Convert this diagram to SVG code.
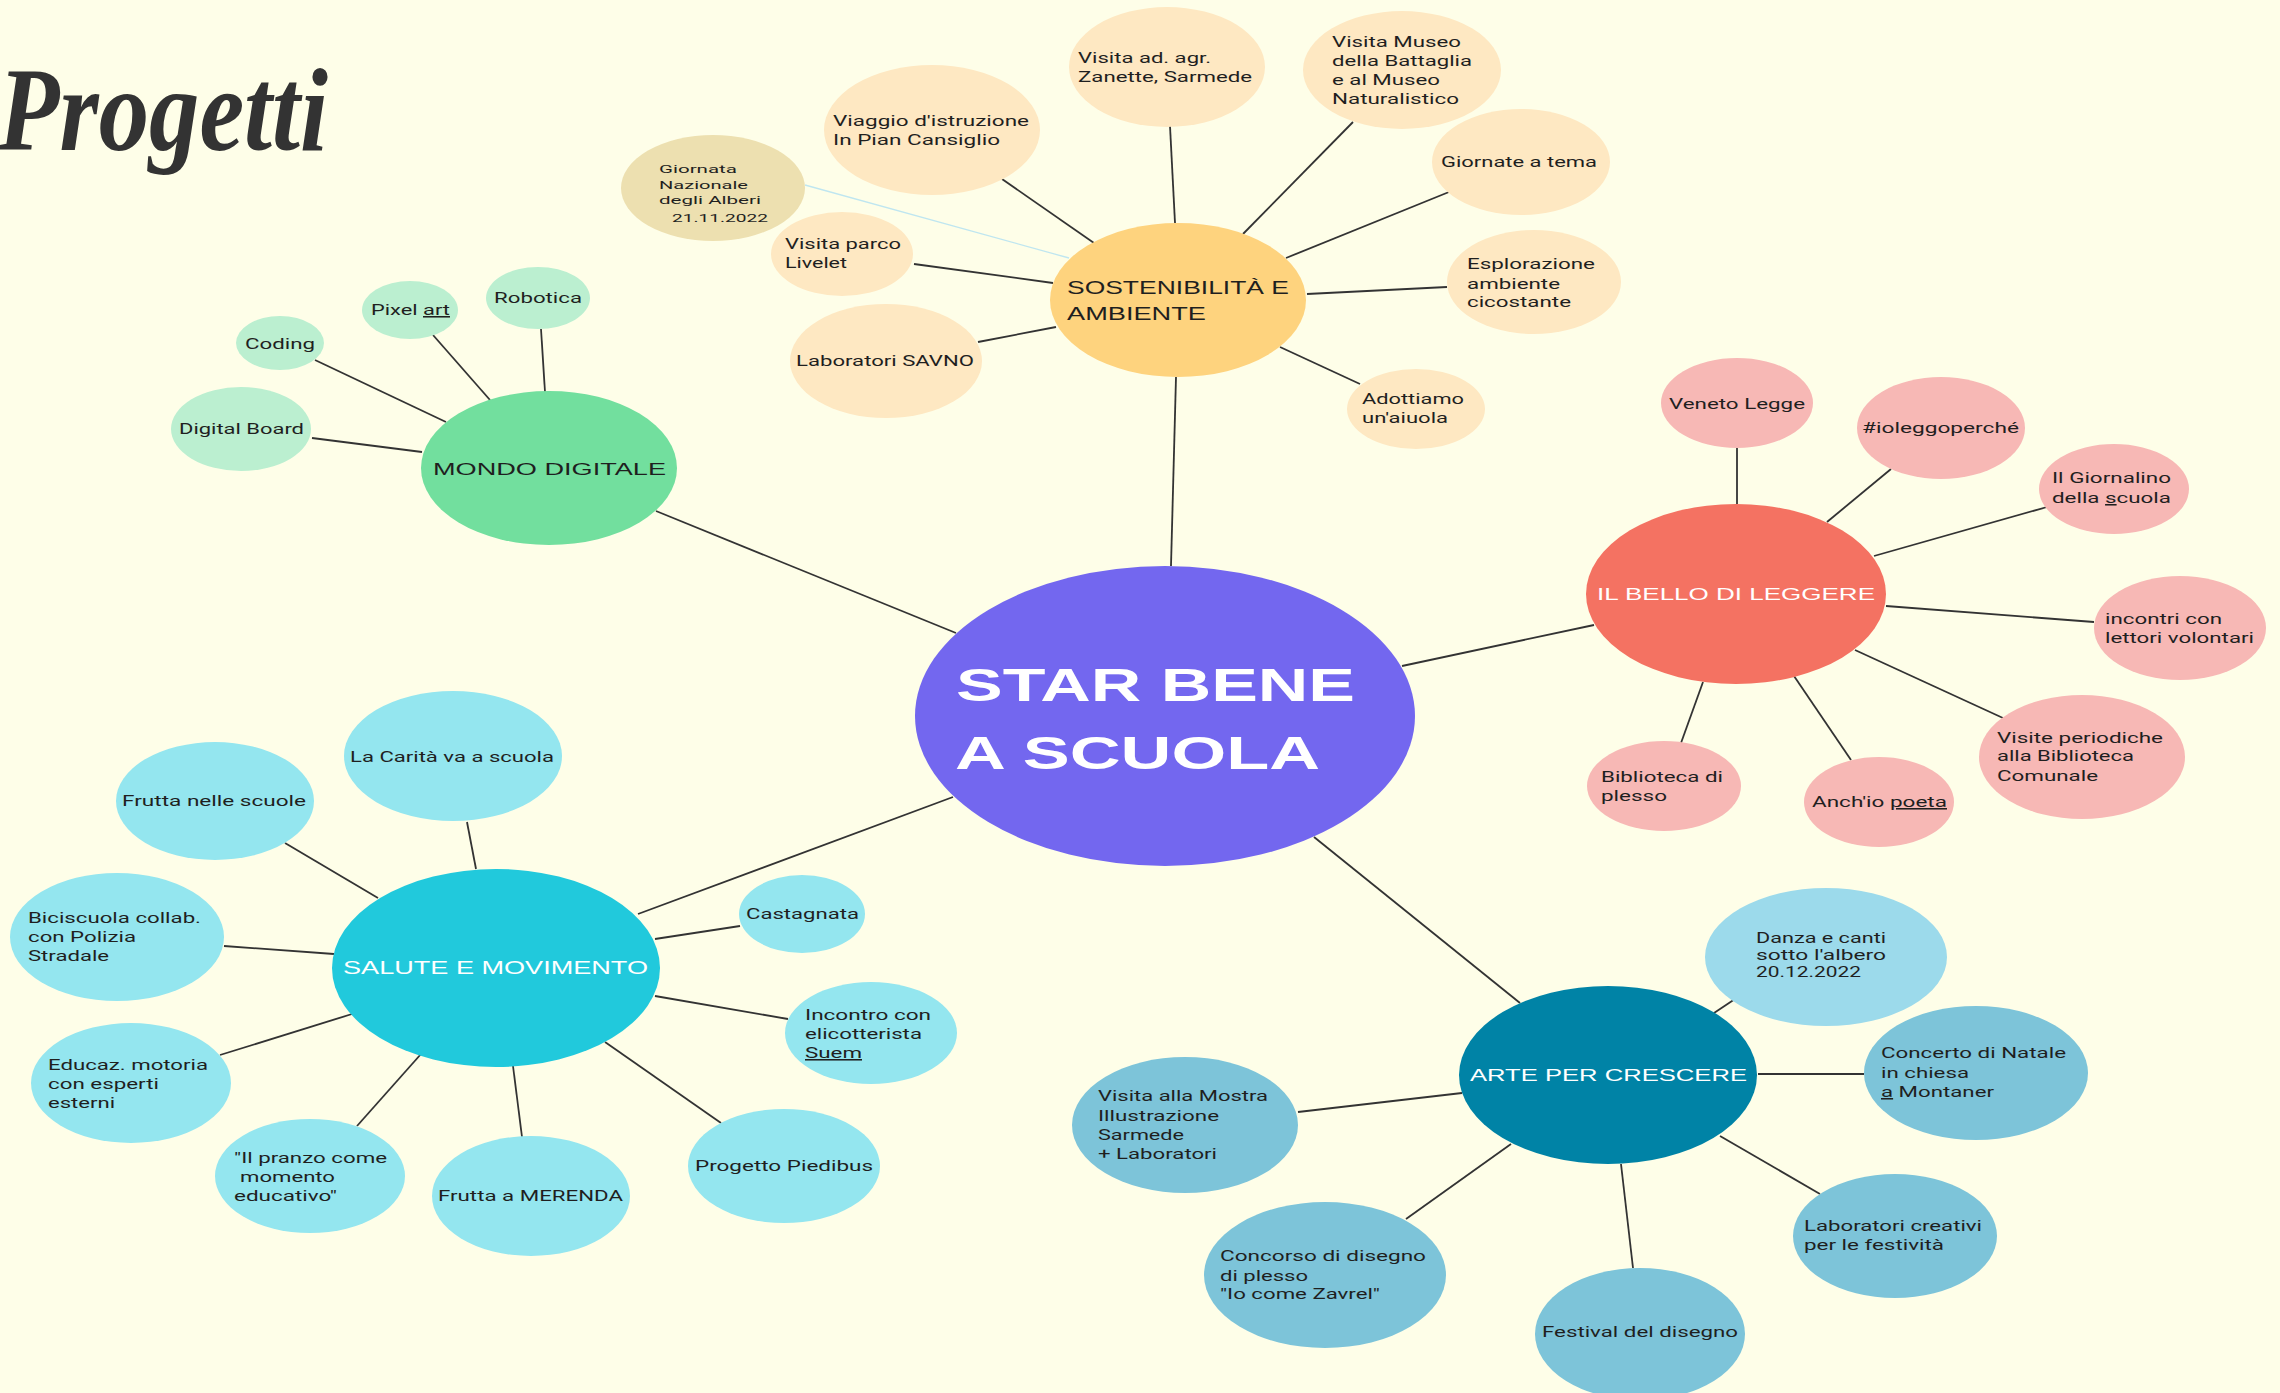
<svg xmlns="http://www.w3.org/2000/svg" width="2280" height="1393" viewBox="0 0 2280 1393">
<style>
.ln{stroke:#333;stroke-width:1.8;fill:none}
.lnb{stroke:#bfe6f0;stroke-width:1.3;fill:none}
text{font-family:Roboto,"Liberation Sans",sans-serif;fill:#1f1f1f;font-size:15.5px}
.hub{font-family:"Liberation Sans",Arial,sans-serif;font-size:17px}
.h18{font-size:18px}
.h175{font-size:17.5px}
.sm{font-size:11.5px}
.title{font-family:"Liberation Serif",serif;font-weight:bold;font-style:italic;font-size:118px;fill:#333}
.ctr{font-family:"Liberation Sans",Arial,sans-serif;font-weight:bold;font-size:46px;fill:#ffffff}
text.w{fill:#ffffff}
.g1{fill:#72df9e}.g2{fill:#bbefd0}
.o1{fill:#fed37e}.o2{fill:#fee8c2}.o3{fill:#ede0b0}
.r1{fill:#f47262}.r2{fill:#f7b8b5}
.c1{fill:#21c9dc}.c2{fill:#94e6ef}
.b1{fill:#0083a6}.b2{fill:#7dc4d9}.b3{fill:#9cdaeb}
.u{text-decoration:underline}
</style>
<rect width="2280" height="1393" fill="#fefee8"/>
<text class="title" x="-2" y="150" textLength="330" lengthAdjust="spacingAndGlyphs">Progetti</text>

<g id="connectors">
<line class="ln" x1="656" y1="511" x2="956" y2="633"/>
<line class="ln" x1="1176" y1="377" x2="1171" y2="566"/>
<line class="ln" x1="1594" y1="625" x2="1402" y2="666"/>
<line class="ln" x1="638" y1="914" x2="953" y2="797"/>
<line class="ln" x1="1520" y1="1003" x2="1314" y2="837"/>
<line class="ln" x1="315" y1="360" x2="446" y2="422"/>
<line class="ln" x1="433" y1="335" x2="490" y2="400"/>
<line class="ln" x1="541" y1="329" x2="545" y2="392"/>
<line class="ln" x1="312" y1="438" x2="422" y2="452"/>
<line class="lnb" x1="805" y1="185" x2="1069" y2="258"/>
<line class="ln" x1="1002" y1="179" x2="1094" y2="243"/>
<line class="ln" x1="1170" y1="126" x2="1175" y2="223"/>
<line class="ln" x1="1353" y1="122" x2="1243" y2="234"/>
<line class="ln" x1="1449" y1="192" x2="1286" y2="258"/>
<line class="ln" x1="1307" y1="294" x2="1447" y2="287"/>
<line class="ln" x1="1280" y1="347" x2="1360" y2="384"/>
<line class="ln" x1="978" y1="342" x2="1056" y2="327"/>
<line class="ln" x1="914" y1="264" x2="1053" y2="283"/>
<line class="ln" x1="1737" y1="448" x2="1737" y2="504"/>
<line class="ln" x1="1891" y1="469" x2="1827" y2="522"/>
<line class="ln" x1="2047" y1="507" x2="1874" y2="556"/>
<line class="ln" x1="1886" y1="606" x2="2094" y2="622"/>
<line class="ln" x1="1855" y1="650" x2="2003" y2="718"/>
<line class="ln" x1="1794" y1="676" x2="1851" y2="760"/>
<line class="ln" x1="1703" y1="682" x2="1681" y2="743"/>
<line class="ln" x1="467" y1="822" x2="476" y2="869"/>
<line class="ln" x1="285" y1="843" x2="378" y2="898"/>
<line class="ln" x1="224" y1="946" x2="334" y2="954"/>
<line class="ln" x1="220" y1="1055" x2="352" y2="1014"/>
<line class="ln" x1="357" y1="1126" x2="421" y2="1054"/>
<line class="ln" x1="522" y1="1137" x2="513" y2="1066"/>
<line class="ln" x1="721" y1="1123" x2="605" y2="1042"/>
<line class="ln" x1="655" y1="996" x2="788" y2="1019"/>
<line class="ln" x1="655" y1="939" x2="740" y2="926"/>
<line class="ln" x1="1735" y1="999" x2="1714" y2="1013"/>
<line class="ln" x1="1758" y1="1074" x2="1864" y2="1074"/>
<line class="ln" x1="1720" y1="1136" x2="1820" y2="1194"/>
<line class="ln" x1="1621" y1="1164" x2="1633" y2="1268"/>
<line class="ln" x1="1511" y1="1144" x2="1406" y2="1219"/>
<line class="ln" x1="1298" y1="1112" x2="1462" y2="1093"/>
</g>

<g id="star-bene-a-scuola">
<ellipse cx="1165" cy="716" rx="250" ry="150" fill="#7367ef"/>
<text class="ctr" x="956" y="701" textLength="399" lengthAdjust="spacingAndGlyphs">STAR BENE</text>
<text class="ctr" x="955" y="769" textLength="365" lengthAdjust="spacingAndGlyphs">A SCUOLA</text>
</g>

<g id="mondo-digitale">
<ellipse class="g1" cx="549" cy="468" rx="128" ry="77"/>
<text class="hub" x="433" y="475" textLength="233" lengthAdjust="spacingAndGlyphs">MONDO DIGITALE</text>
</g>
<g id="coding"><ellipse class="g2" cx="280" cy="343" rx="44" ry="27"/><text x="245" y="349" textLength="70" lengthAdjust="spacingAndGlyphs">Coding</text></g>
<g id="pixel-art"><ellipse class="g2" cx="410" cy="310" rx="48" ry="29"/><text x="371" y="315" textLength="79" lengthAdjust="spacingAndGlyphs">Pixel <tspan class="u">art</tspan></text></g>
<g id="robotica"><ellipse class="g2" cx="538" cy="298" rx="52" ry="31"/><text x="494" y="303" textLength="88" lengthAdjust="spacingAndGlyphs">Robotica</text></g>
<g id="digital-board"><ellipse class="g2" cx="241" cy="429" rx="70" ry="42"/><text x="179" y="434" textLength="125" lengthAdjust="spacingAndGlyphs">Digital Board</text></g>

<g id="sostenibilita">
<ellipse class="o1" cx="1178" cy="300" rx="128" ry="77"/>
<text class="hub h18" x="1067" y="294" textLength="222" lengthAdjust="spacingAndGlyphs">SOSTENIBILITÀ E</text>
<text class="hub h18" x="1067" y="320" textLength="139" lengthAdjust="spacingAndGlyphs">AMBIENTE</text>
</g>
<g id="giornata-alberi"><ellipse class="o3" cx="713" cy="188" rx="92" ry="53"/>
<text class="sm" x="659" y="173" textLength="78" lengthAdjust="spacingAndGlyphs">Giornata</text>
<text class="sm" x="659" y="189" textLength="89" lengthAdjust="spacingAndGlyphs">Nazionale</text>
<text class="sm" x="659" y="204" textLength="102" lengthAdjust="spacingAndGlyphs">degli Alberi</text>
<text class="sm" x="672" y="222" textLength="96" lengthAdjust="spacingAndGlyphs">21.11.2022</text></g>
<g id="viaggio"><ellipse class="o2" cx="932" cy="130" rx="108" ry="65"/>
<text x="833" y="126" textLength="196" lengthAdjust="spacingAndGlyphs">Viaggio d'istruzione</text>
<text x="833" y="145" textLength="167" lengthAdjust="spacingAndGlyphs">In Pian Cansiglio</text></g>
<g id="visita-zanette"><ellipse class="o2" cx="1167" cy="67" rx="98" ry="60"/>
<text x="1078" y="63" textLength="133" lengthAdjust="spacingAndGlyphs">Visita ad. agr.</text>
<text x="1078" y="82" textLength="174" lengthAdjust="spacingAndGlyphs">Zanette, Sarmede</text></g>
<g id="visita-museo"><ellipse class="o2" cx="1402" cy="70" rx="99" ry="59"/>
<text x="1332" y="47" textLength="129" lengthAdjust="spacingAndGlyphs">Visita Museo</text>
<text x="1332" y="66" textLength="140" lengthAdjust="spacingAndGlyphs">della Battaglia</text>
<text x="1332" y="85" textLength="108" lengthAdjust="spacingAndGlyphs">e al Museo</text>
<text x="1332" y="104" textLength="127" lengthAdjust="spacingAndGlyphs">Naturalistico</text></g>
<g id="giornate-tema"><ellipse class="o2" cx="1521" cy="162" rx="89" ry="53"/>
<text x="1441" y="167" textLength="156" lengthAdjust="spacingAndGlyphs">Giornate a tema</text></g>
<g id="esplorazione"><ellipse class="o2" cx="1534" cy="282" rx="87" ry="52"/>
<text x="1467" y="269" textLength="128" lengthAdjust="spacingAndGlyphs">Esplorazione</text>
<text x="1467" y="289" textLength="93" lengthAdjust="spacingAndGlyphs">ambiente</text>
<text x="1467" y="307" textLength="104" lengthAdjust="spacingAndGlyphs">cicostante</text></g>
<g id="adottiamo"><ellipse class="o2" cx="1416" cy="409" rx="69" ry="40"/>
<text x="1362" y="404" textLength="102" lengthAdjust="spacingAndGlyphs">Adottiamo</text>
<text x="1362" y="423" textLength="86" lengthAdjust="spacingAndGlyphs">un'aiuola</text></g>
<g id="savno"><ellipse class="o2" cx="886" cy="361" rx="96" ry="57"/>
<text x="796" y="366" textLength="178" lengthAdjust="spacingAndGlyphs">Laboratori SAVNO</text></g>
<g id="livelet"><ellipse class="o2" cx="842" cy="254" rx="71" ry="42"/>
<text x="785" y="249" textLength="116" lengthAdjust="spacingAndGlyphs">Visita parco</text>
<text x="785" y="268" textLength="62" lengthAdjust="spacingAndGlyphs">Livelet</text></g>

<g id="bello-di-leggere">
<ellipse class="r1" cx="1736" cy="594" rx="150" ry="90"/>
<text class="hub w" x="1597" y="600" textLength="278" lengthAdjust="spacingAndGlyphs">IL BELLO DI LEGGERE</text>
</g>
<g id="veneto-legge"><ellipse class="r2" cx="1737" cy="403" rx="76" ry="45"/>
<text x="1669" y="409" textLength="136" lengthAdjust="spacingAndGlyphs">Veneto Legge</text></g>
<g id="ioleggoperche"><ellipse class="r2" cx="1941" cy="428" rx="84" ry="51"/>
<text x="1862" y="433" textLength="157" lengthAdjust="spacingAndGlyphs">#ioleggoperché</text></g>
<g id="giornalino"><ellipse class="r2" cx="2114" cy="489" rx="75" ry="45"/>
<text x="2052" y="483" textLength="119" lengthAdjust="spacingAndGlyphs">Il Giornalino</text>
<text x="2052" y="503" textLength="119" lengthAdjust="spacingAndGlyphs">della <tspan class="u">s</tspan>cuola</text></g>
<g id="lettori-volontari"><ellipse class="r2" cx="2180" cy="628" rx="86" ry="52"/>
<text x="2105" y="624" textLength="117" lengthAdjust="spacingAndGlyphs">incontri con</text>
<text x="2105" y="643" textLength="149" lengthAdjust="spacingAndGlyphs">lettori volontari</text></g>
<g id="visite-biblioteca"><ellipse class="r2" cx="2082" cy="757" rx="103" ry="62"/>
<text x="1997" y="743" textLength="166" lengthAdjust="spacingAndGlyphs">Visite periodiche</text>
<text x="1997" y="761" textLength="137" lengthAdjust="spacingAndGlyphs">alla Biblioteca</text>
<text x="1997" y="781" textLength="101" lengthAdjust="spacingAndGlyphs">Comunale</text></g>
<g id="anchio-poeta"><ellipse class="r2" cx="1879" cy="802" rx="75" ry="45"/>
<text x="1812" y="807" textLength="135" lengthAdjust="spacingAndGlyphs">Anch'io <tspan class="u">poeta</tspan></text></g>
<g id="biblioteca-plesso"><ellipse class="r2" cx="1664" cy="786" rx="77" ry="45"/>
<text x="1601" y="782" textLength="122" lengthAdjust="spacingAndGlyphs">Biblioteca di</text>
<text x="1601" y="801" textLength="66" lengthAdjust="spacingAndGlyphs">plesso</text></g>

<g id="salute-movimento">
<ellipse class="c1" cx="496" cy="968" rx="164" ry="99"/>
<text class="hub h175 w" x="343" y="974" textLength="305" lengthAdjust="spacingAndGlyphs">SALUTE E MOVIMENTO</text>
</g>
<g id="carita"><ellipse class="c2" cx="453" cy="756" rx="109" ry="65"/>
<text x="350" y="762" textLength="204" lengthAdjust="spacingAndGlyphs">La Carità va a scuola</text></g>
<g id="frutta-scuole"><ellipse class="c2" cx="215" cy="801" rx="99" ry="59"/>
<text x="122" y="806" textLength="184" lengthAdjust="spacingAndGlyphs">Frutta nelle scuole</text></g>
<g id="biciscuola"><ellipse class="c2" cx="117" cy="937" rx="107" ry="64"/>
<text x="28" y="923" textLength="173" lengthAdjust="spacingAndGlyphs">Biciscuola collab.</text>
<text x="28" y="942" textLength="108" lengthAdjust="spacingAndGlyphs">con Polizia</text>
<text x="28" y="961" textLength="81" lengthAdjust="spacingAndGlyphs">Stradale</text></g>
<g id="educaz-motoria"><ellipse class="c2" cx="131" cy="1083" rx="100" ry="60"/>
<text x="48" y="1070" textLength="160" lengthAdjust="spacingAndGlyphs">Educaz. motoria</text>
<text x="48" y="1089" textLength="111" lengthAdjust="spacingAndGlyphs">con esperti</text>
<text x="48" y="1108" textLength="67" lengthAdjust="spacingAndGlyphs">esterni</text></g>
<g id="pranzo"><ellipse class="c2" cx="310" cy="1176" rx="95" ry="57"/>
<text x="234" y="1163" textLength="153" lengthAdjust="spacingAndGlyphs">"Il pranzo come</text>
<text x="240" y="1182" textLength="95" lengthAdjust="spacingAndGlyphs">momento</text>
<text x="234" y="1201" textLength="103" lengthAdjust="spacingAndGlyphs">educativo"</text></g>
<g id="frutta-merenda"><ellipse class="c2" cx="531" cy="1196" rx="99" ry="60"/>
<text x="438" y="1201" textLength="185" lengthAdjust="spacingAndGlyphs">Frutta a MERENDA</text></g>
<g id="piedibus"><ellipse class="c2" cx="784" cy="1166" rx="96" ry="57"/>
<text x="695" y="1171" textLength="178" lengthAdjust="spacingAndGlyphs">Progetto Piedibus</text></g>
<g id="elicotterista"><ellipse class="c2" cx="871" cy="1033" rx="86" ry="51"/>
<text x="805" y="1020" textLength="126" lengthAdjust="spacingAndGlyphs">Incontro con</text>
<text x="805" y="1039" textLength="117" lengthAdjust="spacingAndGlyphs">elicotterista</text>
<text x="805" y="1058" textLength="57" lengthAdjust="spacingAndGlyphs"><tspan class="u">Suem</tspan></text></g>
<g id="castagnata"><ellipse class="c2" cx="802" cy="914" rx="63" ry="39"/>
<text x="746" y="919" textLength="113" lengthAdjust="spacingAndGlyphs">Castagnata</text></g>

<g id="arte-per-crescere">
<ellipse class="b1" cx="1608" cy="1075" rx="149" ry="89"/>
<text class="hub w" x="1470" y="1081" textLength="277" lengthAdjust="spacingAndGlyphs">ARTE PER CRESCERE</text>
</g>
<g id="danza-canti"><ellipse class="b3" cx="1826" cy="957" rx="121" ry="69"/>
<text x="1756" y="943" textLength="130" lengthAdjust="spacingAndGlyphs">Danza e canti</text>
<text x="1756" y="960" textLength="130" lengthAdjust="spacingAndGlyphs">sotto l'albero</text>
<text x="1756" y="977" textLength="105" lengthAdjust="spacingAndGlyphs">20.12.2022</text></g>
<g id="concerto-natale"><ellipse class="b2" cx="1976" cy="1073" rx="112" ry="67"/>
<text x="1881" y="1058" textLength="185" lengthAdjust="spacingAndGlyphs">Concerto di Natale</text>
<text x="1881" y="1078" textLength="88" lengthAdjust="spacingAndGlyphs">in chiesa</text>
<text x="1881" y="1097" textLength="113" lengthAdjust="spacingAndGlyphs"><tspan class="u">a</tspan> Montaner</text></g>
<g id="laboratori-creativi"><ellipse class="b2" cx="1895" cy="1236" rx="102" ry="62"/>
<text x="1804" y="1231" textLength="178" lengthAdjust="spacingAndGlyphs">Laboratori creativi</text>
<text x="1804" y="1250" textLength="140" lengthAdjust="spacingAndGlyphs">per le festività</text></g>
<g id="festival-disegno"><ellipse class="b2" cx="1640" cy="1334" rx="105" ry="66"/>
<text x="1542" y="1337" textLength="196" lengthAdjust="spacingAndGlyphs">Festival del disegno</text></g>
<g id="concorso-disegno"><ellipse class="b2" cx="1325" cy="1275" rx="121" ry="73"/>
<text x="1220" y="1261" textLength="206" lengthAdjust="spacingAndGlyphs">Concorso di disegno</text>
<text x="1220" y="1281" textLength="88" lengthAdjust="spacingAndGlyphs">di plesso</text>
<text x="1220" y="1299" textLength="160" lengthAdjust="spacingAndGlyphs">"Io come Zavrel"</text></g>
<g id="mostra-sarmede"><ellipse class="b2" cx="1185" cy="1125" rx="113" ry="68"/>
<text x="1098" y="1101" textLength="170" lengthAdjust="spacingAndGlyphs">Visita alla Mostra</text>
<text x="1098" y="1121" textLength="121" lengthAdjust="spacingAndGlyphs">Illustrazione</text>
<text x="1098" y="1140" textLength="86" lengthAdjust="spacingAndGlyphs">Sarmede</text>
<text x="1098" y="1159" textLength="119" lengthAdjust="spacingAndGlyphs">+ Laboratori</text></g>
</svg>
